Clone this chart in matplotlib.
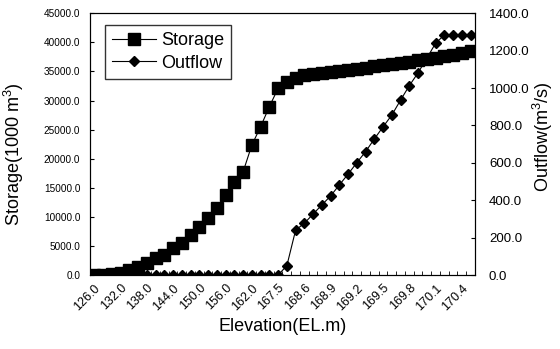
import matplotlib
matplotlib.use('Agg')
import matplotlib.pyplot as plt
import numpy as np

plt.rcParams['font.family'] = ['Liberation Sans', 'DejaVu Sans']

# %% data
elevation = [126.0, 128.0, 130.0, 132.0, 134.0, 136.0, 138.0, 140.0, 142.0, 144.0,
             146.0, 148.0, 150.0, 152.0, 154.0, 156.0, 158.0, 160.0, 162.0, 164.0,
             166.0, 167.5, 168.0, 168.5, 168.6, 168.7, 168.8, 168.9, 169.0, 169.1,
             169.2, 169.3, 169.4, 169.5, 169.6, 169.7, 169.8, 169.9, 170.0, 170.1,
             170.2, 170.3, 170.4, 170.5]
storage = [0, 50, 150, 400, 800, 1300, 2000, 2850, 3450, 4600,
           5450, 6900, 8300, 9750, 11500, 13750, 16050, 17750, 22350, 25500,
           28950, 32100, 33250, 33800, 34350, 34550, 34700, 34900, 35100, 35250,
           35450, 35650, 35850, 36050, 36250, 36450, 36650, 36900, 37100, 37350,
           37600, 37850, 38150, 38450]
outflow = [0, 0, 0, 0, 0, 0, 0, 0, 0, 0,
           0, 0, 0, 0, 0, 0, 0, 0, 0, 0,
           0, 0, 50, 240, 277, 326, 375, 423, 482, 540,
           601, 660, 728, 793, 856, 936, 1013, 1082, 1160, 1240,
           1284, 1284, 1284, 1284]

x = np.arange(len(elevation))

# %% plot
fig = plt.figure(figsize=(5.6, 3.49), dpi=100)
ax = fig.add_axes([0.1607, 0.212, 0.6875, 0.75])
ax2 = ax.twinx()

l2, = ax2.plot(x, outflow, color='black', lw=0.8, marker='D', ms=5.6,
               label='Outflow')
l1, = ax.plot(x, storage, color='black', lw=0.8, marker='s', ms=8,
              label='Storage')

# storage drawn over outflow
ax.set_zorder(ax2.get_zorder() + 1)
ax.patch.set_visible(False)

ax.set_xlim(-0.5, len(x) - 0.5)
ax.set_ylim(0, 45000)
ax2.set_ylim(0, 1400)

ax.set_yticks(np.arange(0, 45001, 5000))
ax.set_yticklabels([f'{v:.1f}' for v in np.arange(0, 45001, 5000)], fontsize=7.2)
ax2.set_yticks(np.arange(0, 1401, 200))
ax2.set_yticklabels([f'{v:.1f}' for v in np.arange(0, 1401, 200)], fontsize=9.5)

ax.set_xticks(x[::3])
ax.set_xticklabels([f'{e:.1f}' for e in elevation[::3]], rotation=45,
                   ha='right', rotation_mode='anchor', fontsize=9)
ax.set_xticks(np.arange(len(x) + 1) - 0.5, minor=True)
ax.tick_params(axis='x', which='major', length=0, pad=5)
ax.tick_params(axis='x', which='minor', direction='in', length=3)
ax.tick_params(axis='y', direction='in', length=3, pad=7)
ax2.tick_params(axis='y', direction='in', length=3, pad=10)

ax.set_xlabel('Elevation(EL.m)', fontsize=13, labelpad=4)
ax.set_ylabel(r'Storage(1000 $\mathregular{m^3}$)', fontsize=13)
ax2.set_ylabel(r'Outflow($\mathregular{m^3}$/s)', fontsize=13)
ax.yaxis.set_label_coords(-0.165, 0.46)
ax2.yaxis.set_label_coords(1.145, 0.53)

leg = ax.legend(handles=[l1, l2], loc='upper left', bbox_to_anchor=(0.039, 0.955),
                borderaxespad=0, fontsize=13, frameon=True, fancybox=False,
                edgecolor='black', handlelength=2.4, handletextpad=0.3,
                labelspacing=0.3, borderpad=0.4)
leg.get_frame().set_linewidth(1.0)

fig.savefig('out.png', dpi=100)
